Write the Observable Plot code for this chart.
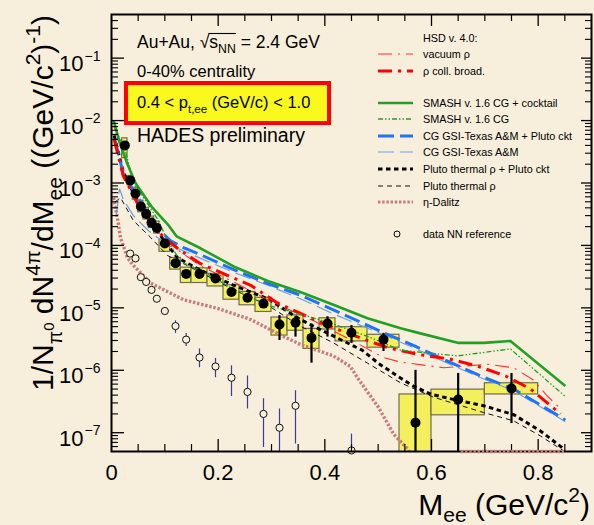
<!DOCTYPE html>
<html><head><meta charset="utf-8">
<script src="https://cdn.jsdelivr.net/npm/d3@7"></script>
<script src="https://cdn.jsdelivr.net/npm/@observablehq/plot@0.6"></script>
<style>
html,body{margin:0;padding:0;background:#f7efdb;}
#chart{width:594px;height:525px;overflow:hidden;}
svg{display:block;}
</style></head><body><div id="chart"></div>
<script>
// ---------------- data ----------------
// Au+Au 0-40%, 0.4<pt<1.0
const mee      = [0.025,0.035,0.045,0.055,0.065,0.075,0.085,0.10,0.12,0.14,0.165,0.195,0.225,0.255,0.285,0.315,0.345,0.375,0.405,0.45,0.51,0.57,0.65,0.75];
const binLo    = [0.02,0.03,0.04,0.05,0.06,0.07,0.08,0.09,0.11,0.13,0.15,0.18,0.21,0.24,0.27,0.30,0.33,0.36,0.39,0.42,0.48,0.54,0.60,0.70];
const binHi    = [0.03,0.04,0.05,0.06,0.07,0.08,0.09,0.11,0.13,0.15,0.18,0.21,0.24,0.27,0.30,0.33,0.36,0.39,0.42,0.48,0.54,0.60,0.70,0.80];
const yieldAA  = [4.0e-3,1.1e-3,6.8e-4,4.2e-4,3.2e-4,2.3e-4,1.9e-4,1.07e-4,5.2e-5,3.5e-5,3.5e-5,2.95e-5,1.8e-5,1.45e-5,1.17e-5,5.4e-6,5.8e-6,3.3e-6,5.6e-6,4.0e-6,3.1e-6,1.45e-7,3.4e-7,5.1e-7];
const statLo   = [3.5e-3,1.0e-3,6.3e-4,3.9e-4,3.0e-4,2.15e-4,1.75e-4,9.8e-5,4.7e-5,3.1e-5,3.15e-5,2.6e-5,1.55e-5,1.25e-5,1.0e-5,3.0e-6,3.4e-6,1.3e-6,3.4e-6,2.7e-6,2.0e-6,1e-9,1e-9,1.4e-7];
const statHi   = [4.6e-3,1.2e-3,7.3e-4,4.5e-4,3.4e-4,2.45e-4,2.05e-4,1.17e-4,5.8e-5,3.9e-5,3.9e-5,3.35e-5,2.1e-5,1.7e-5,1.37e-5,7.5e-6,7.3e-6,5.5e-6,7.2e-6,5.2e-6,3.9e-6,1.0e-6,8.9e-7,8.9e-7];
const sysLo    = [2.5e-3,9.2e-4,5.4e-4,3.4e-4,2.6e-4,1.9e-4,1.55e-4,7.9e-5,4.1e-5,2.5e-5,2.5e-5,2.2e-5,1.35e-5,1.1e-5,8.6e-6,3.6e-6,4.3e-6,2.2e-6,4.5e-6,2.9e-6,2.3e-6,1e-9,1.9e-7,4.1e-7];
const sysHi    = [5.2e-3,1.3e-3,8.4e-4,5.2e-4,4.0e-4,2.9e-4,2.4e-4,1.24e-4,6.3e-5,4.4e-5,4.3e-5,3.5e-5,2.3e-5,1.8e-5,1.45e-5,7.0e-6,7.6e-6,4.6e-6,6.8e-6,4.9e-6,3.7e-6,4.1e-7,4.9e-7,6.2e-7];

// NN reference
const nnX  = [0.035,0.045,0.055,0.065,0.075,0.085,0.10,0.12,0.14,0.165,0.195,0.225,0.255,0.285,0.315,0.345,0.45];
const nnY  = [7.4e-5,6.2e-5,3.1e-5,2.6e-5,1.94e-5,1.4e-5,8.9e-6,5.1e-6,3.1e-6,1.6e-6,1.15e-6,7.6e-7,4.5e-7,2.0e-7,1.2e-7,2.7e-7,5.2e-8];
const nnLo = [7.0e-5,5.9e-5,2.9e-5,2.45e-5,1.8e-5,1.3e-5,7.8e-6,3.9e-6,2.4e-6,1.1e-6,7.6e-7,3.8e-7,2.4e-7,5.8e-8,1e-9,6.6e-8,1e-9];
const nnHi = [7.8e-5,6.5e-5,3.3e-5,2.75e-5,2.05e-5,1.5e-5,1.0e-5,6.2e-6,3.9e-6,2.2e-6,1.55e-6,1.18e-6,8.1e-7,3.5e-7,2.4e-7,4.7e-7,9.5e-8];

// model curves
const hsdVacX = [0.005,0.022,0.049,0.079,0.105,0.13,0.167,0.229,0.30,0.379,0.454,0.51,0.542,0.623,0.705,0.754,0.791,0.818,0.845];
const hsdVacY = [5e-3,1.3e-3,4.7e-4,1.9e-4,1.15e-4,7.8e-5,4.7e-5,2.6e-5,1.25e-5,6.2e-6,2.9e-6,1.6e-6,1.35e-6,1.1e-6,1.25e-6,1.1e-6,7.0e-7,3.8e-7,2.3e-7];
const hsdBroadX = [0.005,0.022,0.049,0.079,0.105,0.129,0.167,0.229,0.261,0.311,0.373,0.416,0.48,0.518,0.574,0.636,0.686,0.739,0.786,0.842];
const hsdBroadY = [5e-3,1.3e-3,4.7e-4,1.95e-4,1.2e-4,8.3e-5,5.1e-5,3.0e-5,2.3e-5,1.2e-5,6.9e-6,4.8e-6,3.0e-6,2.3e-6,1.8e-6,1.5e-6,1.17e-6,8.1e-7,5.0e-7,2.0e-7];
const smashCktX = [0.004,0.015,0.03,0.045,0.075,0.105,0.122,0.167,0.229,0.293,0.354,0.416,0.48,0.542,0.579,0.649,0.698,0.748,0.851];
const smashCktY = [1.0e-2,4.5e-3,2.0e-3,1.0e-3,4.2e-4,2.2e-4,1.4e-4,9.0e-5,4.6e-5,2.7e-5,1.8e-5,1.12e-5,6.8e-6,4.7e-6,3.9e-6,2.75e-6,2.75e-6,2.95e-6,5.6e-7];
const smashX = [0.005,0.026,0.041,0.064,0.088,0.105,0.13,0.167,0.229,0.293,0.354,0.416,0.48,0.542,0.649,0.748,0.851];
const smashY = [8e-3,3.3e-3,1.0e-3,5.2e-4,2.5e-4,1.2e-4,5.5e-5,4.0e-5,2.0e-5,1.1e-5,8.0e-6,5.5e-6,3.5e-6,2.1e-6,1.7e-6,2.2e-6,3.8e-7];
const cgCktX = [0.006,0.022,0.041,0.068,0.092,0.11,0.135,0.167,0.229,0.293,0.354,0.416,0.51,0.566,0.63,0.692,0.754,0.851];
const cgCktY = [5.1e-3,1.4e-3,7.6e-4,3.3e-4,1.7e-4,1.2e-4,9.2e-5,7.1e-5,4.1e-5,2.45e-5,1.6e-5,9.3e-6,4.0e-6,2.5e-6,1.4e-6,8.1e-7,5.0e-7,1.6e-7];
const cgX = [0.009,0.015,0.022,0.041,0.07,0.10,0.167,0.229,0.293,0.354,0.416,0.51,0.566,0.63,0.692,0.754,0.851];
const cgY = [3e-4,8.1e-4,5.5e-4,3.0e-4,1.7e-4,1.1e-4,6.2e-5,3.7e-5,2.3e-5,1.4e-5,8e-6,3.7e-6,2.3e-6,1.3e-6,7.6e-7,4.7e-7,1.5e-7];
const plutoCktX = [0.005,0.022,0.049,0.079,0.10,0.124,0.167,0.229,0.293,0.354,0.42,0.47,0.50,0.542,0.566,0.60,0.649,0.698,0.754,0.804,0.848];
const plutoCktY = [5.8e-3,1.5e-3,5.0e-4,2.1e-4,1.15e-4,6.3e-5,4.0e-5,2.3e-5,1.4e-5,6.5e-6,3.4e-6,2.1e-6,1.3e-6,7.5e-7,5.6e-7,4.1e-7,3.3e-7,2.7e-7,1.95e-7,1.07e-7,5.5e-8];
const plutoX = [0.007,0.017,0.041,0.073,0.105,0.167,0.229,0.293,0.354,0.416,0.48,0.542,0.604,0.698,0.754,0.804,0.848];
const plutoY = [5e-4,5.8e-4,2.5e-4,1.35e-4,6.9e-5,3.7e-5,1.95e-5,1.1e-5,5.1e-6,2.75e-6,1.3e-6,6.3e-7,3.7e-7,2.1e-7,1.55e-7,8.9e-8,5.1e-8];
const etaX = [0.004,0.011,0.017,0.022,0.03,0.041,0.073,0.135,0.199,0.261,0.322,0.354,0.416,0.448,0.461,0.50,0.529,0.555,0.57];
const etaY = [5.8e-4,2.8e-4,1.3e-4,1.0e-4,6.3e-5,4.8e-5,2.5e-5,1.35e-5,9.8e-6,6.5e-6,3.5e-6,2.6e-6,1.7e-6,1.15e-6,7.6e-7,2.6e-7,9.5e-8,5.5e-8,3e-8];
const etaTailX = [0.655,0.85];
const etaTailY = [5e-8,5e-8];

// axis ticks / labels
const xTickValues = [0,0.2,0.4,0.6,0.8];
const xTickLabels = ["0","0.2","0.4","0.6","0.8"];
const xMinorTicks = [0.05,0.1,0.15,0.25,0.3,0.35,0.45,0.5,0.55,0.65,0.7,0.75,0.85];
const yTickValues = [1e-7,1e-6,1e-5,1e-4,1e-3,1e-2,1e-1];
const yTickExps   = ["−7","−6","−5","−4","−3","−2","−1"];

// ---------------- layout & styles ----------------
const FONT = "'Liberation Sans', Arial, Helvetica, sans-serif";
const BG = "#f7efdb";
const W = 594, H = 525, mL = 111, mR = 3, mT = 14, mB = 74;
const iw = W - mL - mR, ih = H - mT - mB;

const yMinor = [];
for (let e = -8; e <= -1; e++) for (let k = 2; k <= 9; k++) {
  const v = k * Math.pow(10, e);
  if (v > 5e-8 && v < 0.5) yMinor.push(v);
}

const series = (xs, ys) => xs.map((x, i) => ({x, y: ys[i]}));
const points = mee.map((x, i) => ({x, x1: binLo[i], x2: binHi[i], y: yieldAA[i], e1: statLo[i], e2: statHi[i], s1: sysLo[i], s2: sysHi[i]}));
const nn = nnX.map((x, i) => ({x, y: nnY[i], lo: nnLo[i], hi: nnHi[i]}));

const curves = [
  {label: "η-Dalitz", xs: etaX, ys: etaY, stroke: "#c97b7b", width: 3.4, dash: "2.4,1.8"},
  {label: "Pluto thermal ρ", xs: plutoX, ys: plutoY, stroke: "#111", width: 1, dash: "5,4"},
  {label: "Pluto thermal ρ + Pluto ckt", xs: plutoCktX, ys: plutoCktY, stroke: "#000", width: 3, dash: "4.5,3.5"},
  {label: "CG GSI-Texas A&M", xs: cgX, ys: cgY, stroke: "#6d9fe6", width: 1.2, dash: "16,6"},
  {label: "CG GSI-Texas A&M + Pluto ckt", xs: cgCktX, ys: cgCktY, stroke: "#1f74f5", width: 3, dash: "16,6"},
  {label: "vacuum ρ", xs: hsdVacX, ys: hsdVacY, stroke: "#ff3030", width: 1.1, dash: "14,6,2,6"},
  {label: "ρ coll. broad.", xs: hsdBroadX, ys: hsdBroadY, stroke: "#ff0000", width: 3, dash: "14,6,3,6"},
  {label: "SMASH v. 1.6 CG", xs: smashX, ys: smashY, stroke: "#23a023", width: 1.3, dash: "5,2,1.5,2,1.5,2"},
  {label: "SMASH v. 1.6 CG + cocktail", xs: smashCktX, ys: smashCktY, stroke: "#23a023", width: 2.6, dash: null}
];
const byLabel = Object.fromEntries(curves.map(c => [c.label, c]));

const marks = [
  Plot.rect(points, {x1: "x1", x2: "x2", y1: "s1", y2: "s2", fill: "#f4ef5c", stroke: "#6f6d4c", strokeWidth: 1.2, clip: true})
];
for (const c of curves) {
  marks.push(Plot.line(series(c.xs, c.ys), {x: "x", y: "y", stroke: c.stroke, strokeWidth: c.width, strokeDasharray: c.dash || undefined, strokeLinecap: "butt", strokeLinejoin: "miter", clip: true}));
}
const eta = byLabel["η-Dalitz"];
marks.push(
  Plot.ruleX(nn, {x: "x", y1: "lo", y2: "hi", stroke: "#3b3ba6", strokeWidth: 1.2, clip: true}),
  Plot.dot(nn, {x: "x", y: "y", r: 3.6, stroke: "#111", strokeWidth: 1, fill: BG}),
  Plot.ruleX(points, {x: "x", y1: "e1", y2: "e2", stroke: "#000", strokeWidth: 2.2, clip: true}),
  Plot.dot(points, {x: "x", y: "y", r: 5, fill: "#000"}),
  // ticks (inward, ROOT style)
  Plot.tickX(xTickValues.slice(1), {x: d => d, insetTop: ih - 12, stroke: "#000", strokeWidth: 1.3}),
  Plot.tickX(xTickValues.slice(1), {x: d => d, insetBottom: ih - 12, stroke: "#000", strokeWidth: 1.3}),
  Plot.tickX(xMinorTicks, {x: d => d, insetTop: ih - 7, stroke: "#000", strokeWidth: 1.2}),
  Plot.tickX(xMinorTicks, {x: d => d, insetBottom: ih - 7, stroke: "#000", strokeWidth: 1.2}),
  Plot.tickY(yTickValues, {y: d => d, insetRight: iw - 13, stroke: "#000", strokeWidth: 1.3}),
  Plot.tickY(yTickValues, {y: d => d, insetLeft: iw - 10, stroke: "#000", strokeWidth: 1.3}),
  Plot.tickY(yMinor, {y: d => d, insetRight: iw - 7, stroke: "#000", strokeWidth: 1.1}),
  Plot.tickY(yMinor, {y: d => d, insetLeft: iw - 6, stroke: "#000", strokeWidth: 1.1}),
  Plot.frame({stroke: "#000", strokeWidth: 2}),
  // eta-Dalitz zero bins drawn on the lower axis line (as in the reference)
  Plot.line(series(etaTailX, etaTailY), {x: "x", y: "y", stroke: eta.stroke, strokeWidth: eta.width, strokeDasharray: eta.dash, strokeLinecap: "butt"}),
  // tick labels
  Plot.text(xTickLabels, {x: (d, i) => xTickValues[i], text: d => d, frameAnchor: "bottom", dy: 21, fontSize: 22, fill: "#000", lineAnchor: "middle"}),
  Plot.text(yTickValues, {y: d => d, text: () => "10", frameAnchor: "left", dx: -28, dy: 6, textAnchor: "end", fontSize: 22, fill: "#000", lineAnchor: "middle"}),
  Plot.text(yTickValues, {y: d => d, text: (d, i) => yTickExps[i], frameAnchor: "left", dx: -27, dy: -2, textAnchor: "start", fontSize: 14, fill: "#000", lineAnchor: "middle"})
);

const svg = Plot.plot({
  width: W, height: H,
  marginLeft: mL, marginRight: mR, marginTop: mT, marginBottom: mB,
  style: {background: BG, fontFamily: FONT, overflow: "visible"},
  x: {domain: [0, 0.9], axis: null},
  y: {type: "log", domain: [5e-8, 0.5], axis: null},
  marks
});
document.getElementById("chart").appendChild(svg);

// ---------------- rich text helpers (titles, annotations, legend) ----------------
const root = d3.select(svg);
function richText(parent, x, y, segs, size, anchor) {
  const t = parent.append("text").attr("x", x).attr("y", y)
    .attr("font-family", FONT).attr("font-size", size).attr("fill", "#000")
    .attr("text-anchor", anchor || "start");
  let cur = 0;
  for (const s of segs) {
    const [str, shift = 0, scale = 1] = Array.isArray(s) ? s : [s];
    const ts = t.append("tspan").text(str).attr("font-size", size * scale);
    const off = shift * size;
    if (off !== cur) { ts.attr("dy", off - cur); cur = off; }
  }
  return t;
}

// axis titles
richText(root, 590, 515, ["M", ["ee", 0.24, 0.7], [" (GeV/c", 0], ["2", -0.42, 0.7], [")", 0]], 30, "end");
const yl = root.append("g").attr("transform", "translate(53,203) rotate(-90)");
richText(yl, 0, 0, ["1/N", ["π", 0.3, 0.65], ["0", 0.02, 0.5], [" dN", 0], ["4π", -0.42, 0.68], ["/dM", 0], ["ee", 0.3, 0.7],
  [" ((GeV/c", 0], ["2", -0.42, 0.7], [")", 0], ["-1", -0.42, 0.7], [")", 0]], 30, "middle");

// annotation block
const ann = root.append("g");
const t1 = richText(ann, 137, 48, ["Au+Au, √s", ["NN", 0.3, 0.7], [" = 2.4 GeV", 0]], 17.5);
try {
  const n = t1.node();
  const r = n.getExtentOfChar(7), e = n.getExtentOfChar(10);
  const yTop = r.y + 1.5;
  ann.append("line").attr("x1", r.x + r.width - 1).attr("x2", e.x + e.width).attr("y1", yTop).attr("y2", yTop)
    .attr("stroke", "#000").attr("stroke-width", 1.1);
} catch (err) {}
richText(ann, 137, 77, ["0-40% centrality"], 16.5);
ann.append("rect").attr("x", 126).attr("y", 83).attr("width", 203).attr("height", 40)
  .attr("fill", "#f9f91e").attr("stroke", "#ff0000").attr("stroke-width", 4);
richText(ann, 137, 108, ["0.4 < p", ["t,ee", 0.3, 0.7], [" (GeV/c) < 1.0", 0]], 16.5);
richText(ann, 137, 142, ["HADES preliminary"], 19.5);

// legend
const lg = root.append("g");
const LX0 = 378, LX1 = 413, TX = 423, LS = 10.8;
richText(lg, TX, 42, ["HSD v. 4.0:"], LS);
const legendRows = [
  ["vacuum ρ", 54], ["ρ coll. broad.", 71],
  ["SMASH v. 1.6 CG + cocktail", 103], ["SMASH v. 1.6 CG", 119],
  ["CG GSI-Texas A&M + Pluto ckt", 136], ["CG GSI-Texas A&M", 152],
  ["Pluto thermal ρ + Pluto ckt", 169], ["Pluto thermal ρ", 186], ["η-Dalitz", 202]
];
for (const [lab, yy] of legendRows) {
  const c = byLabel[lab];
  const ln = lg.append("line").attr("x1", LX0).attr("x2", LX1).attr("y1", yy).attr("y2", yy)
    .attr("stroke", c.stroke).attr("stroke-width", Math.min(c.width, 3)).attr("stroke-linecap", "butt");
  if (c.dash) ln.attr("stroke-dasharray", c.dash);
  richText(lg, TX, yy + 4, [lab], LS);
}
lg.append("circle").attr("cx", 397).attr("cy", 234).attr("r", 3).attr("fill", "none").attr("stroke", "#000").attr("stroke-width", 1);
richText(lg, TX, 238, ["data NN reference"], LS);
</script>
</body></html>
